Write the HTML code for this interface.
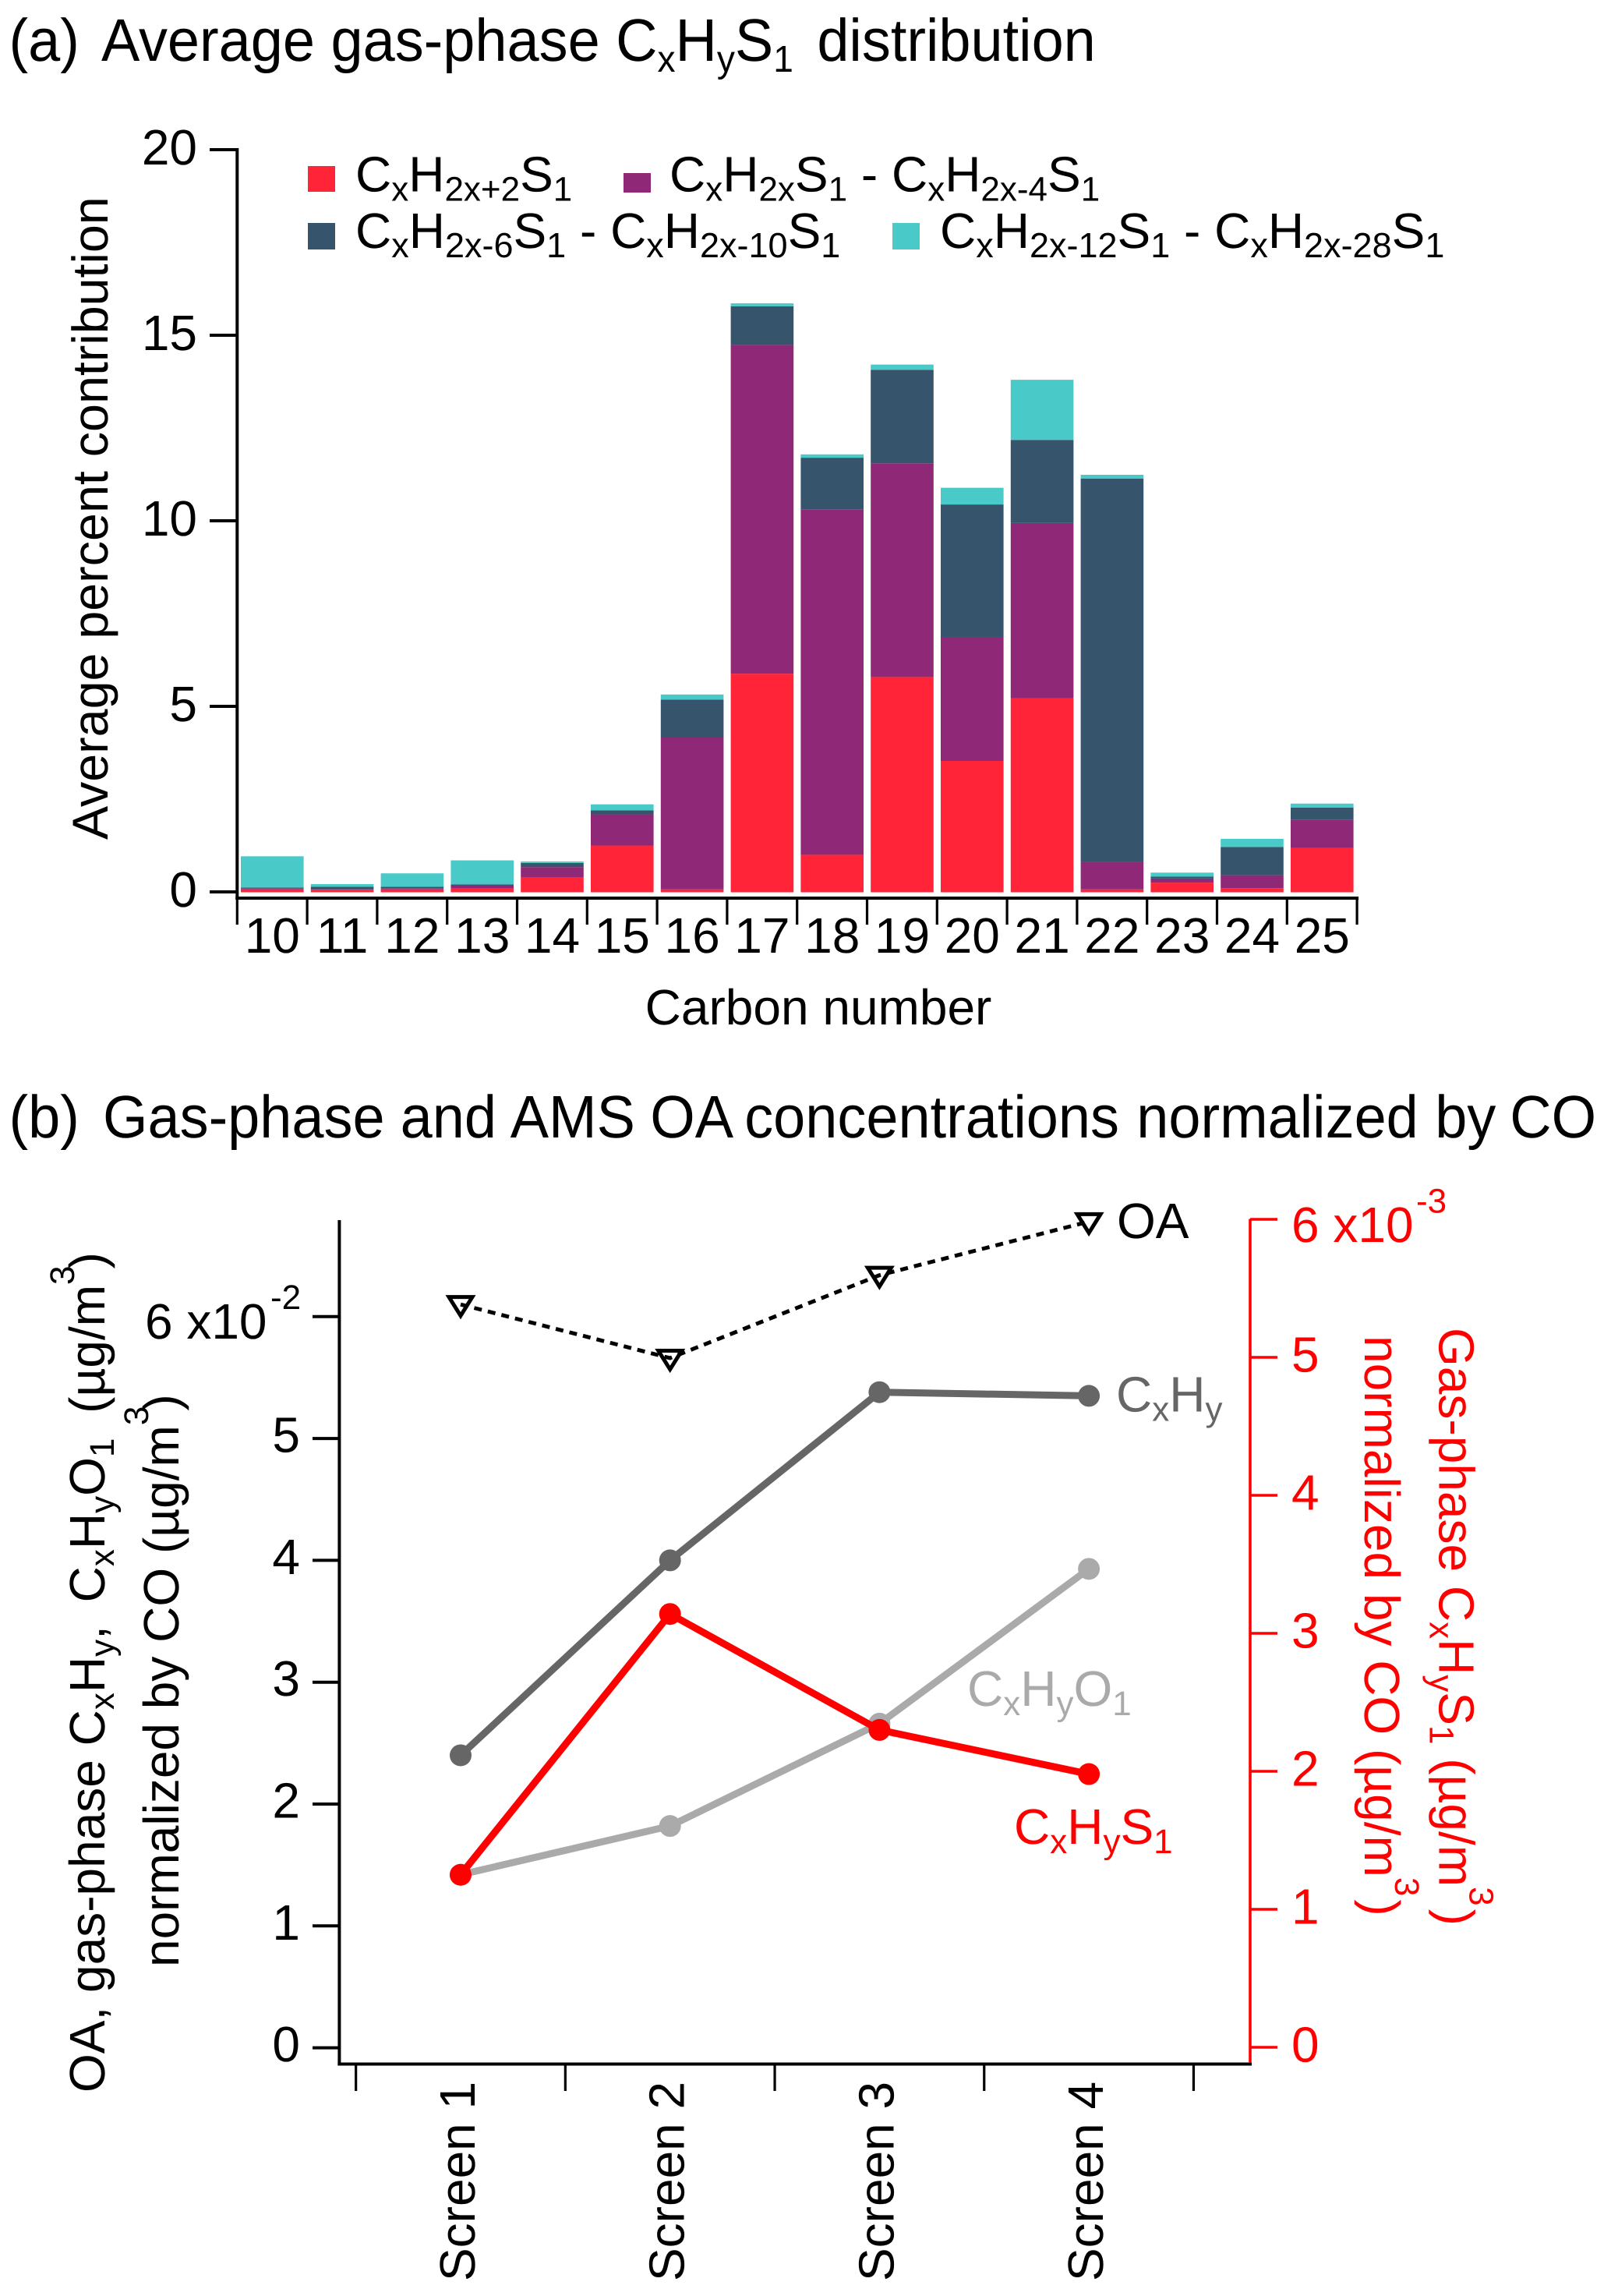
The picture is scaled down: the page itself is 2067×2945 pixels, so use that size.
<!DOCTYPE html>
<html lang="en">
<head>
<meta charset="utf-8">
<title>Gas-phase CxHyS1 distribution and concentrations normalized by CO</title>
<style>
html,body{margin:0;padding:0;background:#fff;}
svg{display:block;}
text{font-family:"Liberation Sans",Arial,sans-serif;font-size:64px;fill:#000;text-rendering:geometricPrecision;}
.s{font-size:44px;}
.s2{font-size:45px;}
.t{font-size:77px;}
.ts{font-size:48px;}
.red{fill:#ff0000;}
</style>
</head>
<body>
<svg id="figure" xmlns="http://www.w3.org/2000/svg" width="2067" height="2945" viewBox="0 0 2067 2945">
<rect x="0" y="0" width="2067" height="2945" fill="#fff"/>

<text transform="scale(0.96,1)" y="78" class="t"><tspan x="12">(a)</tspan><tspan x="135.4">Average gas-phase</tspan><tspan x="823">C</tspan><tspan class="ts" dy="14">x</tspan><tspan dy="-14">H</tspan><tspan class="ts" dy="14">y</tspan><tspan dy="-14">S</tspan><tspan class="ts" dy="14">1</tspan><tspan x="1092" dy="-14">distribution</tspan></text>

<g id="panel-a"></g>

<text transform="translate(138,1077) rotate(-90)" style="font-size:64.6px">Average percent contribution</text>
<text x="1050" y="1314" text-anchor="middle">Carbon number</text>

<g>
  <rect x="395" y="213" width="35" height="33" fill="#ff2437"/>
  <text x="456" y="245.5">C<tspan class="s" dy="12">x</tspan><tspan dy="-12">H</tspan><tspan class="s" dy="12">2x+2</tspan><tspan dy="-12">S</tspan><tspan class="s" dy="12">1</tspan></text>
  <rect x="800" y="222" width="35" height="25" fill="#8f2876"/>
  <text x="859" y="245.5">C<tspan class="s" dy="12">x</tspan><tspan dy="-12">H</tspan><tspan class="s" dy="12">2x</tspan><tspan dy="-12">S</tspan><tspan class="s" dy="12">1</tspan><tspan dy="-12"> - C</tspan><tspan class="s" dy="12">x</tspan><tspan dy="-12">H</tspan><tspan class="s" dy="12">2x-4</tspan><tspan dy="-12">S</tspan><tspan class="s" dy="12">1</tspan></text>
  <rect x="395" y="286" width="35" height="34" fill="#36556d"/>
  <text x="456" y="318">C<tspan class="s2" dy="12">x</tspan><tspan dy="-12">H</tspan><tspan class="s2" dy="12">2x-6</tspan><tspan dy="-12">S</tspan><tspan class="s2" dy="12">1</tspan><tspan dy="-12"> - C</tspan><tspan class="s2" dy="12">x</tspan><tspan dy="-12">H</tspan><tspan class="s2" dy="12">2x-10</tspan><tspan dy="-12">S</tspan><tspan class="s2" dy="12">1</tspan></text>
  <rect x="1145" y="286" width="35" height="34" fill="#49c9c7"/>
  <text x="1206" y="318">C<tspan class="s2" dy="12">x</tspan><tspan dy="-12">H</tspan><tspan class="s2" dy="12">2x-12</tspan><tspan dy="-12">S</tspan><tspan class="s2" dy="12">1</tspan><tspan dy="-12"> - C</tspan><tspan class="s2" dy="12">x</tspan><tspan dy="-12">H</tspan><tspan class="s2" dy="12">2x-28</tspan><tspan dy="-12">S</tspan><tspan class="s2" dy="12">1</tspan></text>
</g>

<text transform="scale(0.96,1)" y="1459" class="t"><tspan x="12">(b)</tspan><tspan x="137.5">Gas-phase</tspan><tspan x="535">and</tspan><tspan x="682">AMS</tspan><tspan x="869">OA</tspan><tspan x="995">concentrations</tspan><tspan x="1519">normalized</tspan><tspan x="1918">by</tspan><tspan x="2018">CO</tspan></text>

<g id="panel-b"></g>

<text x="342.5" y="1717" text-anchor="end">6 x10</text>
<text x="347" y="1679" class="s">-2</text>
<text x="1657" y="1593" class="red">6 x10</text>
<text x="1817" y="1555.6" class="s red">-3</text>

<text transform="translate(134,2684) rotate(-90)">OA, gas-phase C<tspan class="s" dy="12">x</tspan><tspan dy="-12">H</tspan><tspan class="s" dy="12">y</tspan><tspan dy="-12">, </tspan><tspan dx="12">C</tspan><tspan class="s" dy="12">x</tspan><tspan dy="-12">H</tspan><tspan class="s" dy="12">y</tspan><tspan dy="-12">O</tspan><tspan class="s" dy="12">1</tspan><tspan dy="-12" dx="14"> (µg/m</tspan><tspan class="s" dy="-39">3</tspan><tspan dy="39" dx="-4">)</tspan></text>
<text transform="translate(229,2523) rotate(-90)">normalized by CO (µg/m<tspan class="s" dy="-39">3</tspan><tspan dy="39" dx="-6">)</tspan></text>

<text transform="translate(1846.6,1703) rotate(90)" class="red">Gas-phase C<tspan class="s red" dy="12">x</tspan><tspan dy="-12">H</tspan><tspan class="s red" dy="12">y</tspan><tspan dy="-12">S</tspan><tspan class="s red" dy="12">1</tspan><tspan dy="-12"> (µg/m</tspan><tspan class="s red" dy="-39">3</tspan><tspan dy="39" dx="4">)</tspan></text>
<text transform="translate(1751,1713) rotate(90)" class="red">normalized by CO (µg/m<tspan class="s red" dy="-39">3</tspan><tspan dy="39" dx="4">)</tspan></text>

<text x="1433" y="1588">OA</text>
<text x="1432" y="1810.7" style="fill:#666666">C<tspan class="s" dy="12">x</tspan><tspan dy="-12">H</tspan><tspan class="s" dy="12">y</tspan></text>
<text x="1241" y="2188" style="fill:#aaaaaa">C<tspan class="s" dy="12">x</tspan><tspan dy="-12">H</tspan><tspan class="s" dy="12">y</tspan><tspan dy="-12">O</tspan><tspan class="s" dy="12">1</tspan></text>
<text x="1301" y="2365" class="red">C<tspan class="s red" dy="12">x</tspan><tspan dy="-12">H</tspan><tspan class="s red" dy="12">y</tspan><tspan dy="-12">S</tspan><tspan class="s red" dy="12">1</tspan></text>
</svg>

<script>
// Panel (a) data: stacked contribution of each class per carbon number
const carbonNumbers = [10, 11, 12, 13, 14, 15, 16, 17, 18, 19, 20, 21, 22, 23, 24, 25];
const alkaneValues = [0.08, 0.07, 0.08, 0.10, 0.41, 1.26, 0.08, 5.89, 1.01, 5.80, 3.54, 5.23, 0.08, 0.26, 0.11, 1.19];
const purpleValues = [0.02, 0.01, 0.02, 0.10, 0.27, 0.84, 4.09, 8.86, 9.31, 5.76, 3.33, 4.72, 0.73, 0.11, 0.35, 0.77];
const navyValues = [0.03, 0.07, 0.05, 0.01, 0.11, 0.11, 1.02, 1.04, 1.39, 2.52, 3.58, 2.24, 10.34, 0.05, 0.76, 0.32];
const cyanValues = [0.84, 0.07, 0.36, 0.65, 0.04, 0.16, 0.14, 0.08, 0.09, 0.14, 0.45, 1.62, 0.10, 0.11, 0.22, 0.11];
const panelATicks = [0, 5, 10, 15, 20];

// Panel (b) data
const screenLabels = ['Screen 1', 'Screen 2', 'Screen 3', 'Screen 4'];
const oaValues = [6.10, 5.66, 6.34, 6.78];
const cxhyValues = [2.40, 4.00, 5.38, 5.35];
const cxhyo1Values = [1.42, 1.82, 2.66, 3.93];
const cxhys1Values = [1.25, 3.14, 2.30, 1.98];
const leftTicks = [0, 1, 2, 3, 4, 5, 6];
const leftTickLabels = ['0', '1', '2', '3', '4', '5', ''];
const rightTicks = [0, 1, 2, 3, 4, 5, 6];
const rightTickLabels = ['0', '1', '2', '3', '4', '5', ''];

const NS = 'http://www.w3.org/2000/svg';
function make(parent, tag, attrs, text) {
  const el = document.createElementNS(NS, tag);
  for (const k in attrs) el.setAttribute(k, attrs[k]);
  if (text !== undefined) el.textContent = text;
  parent.appendChild(el);
  return el;
}

// Axis functions
function yA(v) { return 1144.5 - 47.6 * v; }
function bandA(i) { return 304.3 + 89.8 * i; }
function yL(v) { return 2626.6 - 156.3 * v; }
function yR(v) { return 2626 - 177 * v; }
function xB(i) { return 591 + 268.7 * i; }
function tickB(i) { return xB(i) - 134.35; }

// ---- Panel (a) ----
const gA = document.getElementById('panel-a');
const stacks = [
  { name: 'alkane', values: alkaneValues, color: '#ff2437' },
  { name: 'purple', values: purpleValues, color: '#8f2876' },
  { name: 'navy', values: navyValues, color: '#36556d' },
  { name: 'cyan', values: cyanValues, color: '#49c9c7' }
];
carbonNumbers.forEach(function (c, i) {
  let cum = 0;
  stacks.forEach(function (s) {
    const v = s.values[i];
    const rect = make(gA, 'rect', { x: bandA(i) + 4.7, y: yA(cum + v), width: 80.6, height: yA(cum) - yA(cum + v), fill: s.color });
    
    
    cum += v;
  });
});
const axisAY = make(gA, 'line', { x1: 304.3, y1: 190, x2: 304.3, y2: 1154, stroke: '#000', 'stroke-width': 4 });


const axisAX = make(gA, 'line', { x1: 302.3, y1: 1152, x2: bandA(16) + 2, y2: 1152, stroke: '#000', 'stroke-width': 4 });


panelATicks.forEach(function (t) {
  const tick = make(gA, 'line', { x1: 269, y1: yA(t) - 0.5, x2: 304, y2: yA(t) - 0.5, stroke: '#000', 'stroke-width': 4 });
  
  
  const lab = make(gA, 'text', { x: 253, y: yA(t) + 18.5, 'text-anchor': 'end' }, String(t));
  
  
});
for (let i = 0; i <= carbonNumbers.length; i++) {
  const tick = make(gA, 'line', { x1: bandA(i), y1: 1152, x2: bandA(i), y2: 1186, stroke: '#000', 'stroke-width': 3.2 });
  
  
}
carbonNumbers.forEach(function (c, i) {
  const lab = make(gA, 'text', { x: bandA(i) + 45, y: 1222, 'text-anchor': 'middle' }, String(c));
  
  
});

// ---- Panel (b) ----
const gB = document.getElementById('panel-b');
const axisBL = make(gB, 'line', { x1: 435.4, y1: 1565, x2: 435.4, y2: 2649.5, stroke: '#000', 'stroke-width': 4 });


const axisBB = make(gB, 'line', { x1: 433.4, y1: 2647.5, x2: 1606, y2: 2647.5, stroke: '#000', 'stroke-width': 4 });


const axisBR = make(gB, 'line', { x1: 1604, y1: 1563.5, x2: 1604, y2: 2646, stroke: '#ff0000', 'stroke-width': 3.6 });



leftTicks.forEach(function (t, i) {
  const tick = make(gB, 'line', { x1: 401, y1: yL(t), x2: 435, y2: yL(t), stroke: '#000', 'stroke-width': 4 });
  
  
  if (leftTickLabels[i]) {
    const lab = make(gB, 'text', { x: 385, y: yL(t) + 17.5, 'text-anchor': 'end' }, leftTickLabels[i]);
    
    
  }
});
rightTicks.forEach(function (t, i) {
  const tick = make(gB, 'line', { x1: 1604, y1: yR(t), x2: 1639, y2: yR(t), stroke: '#ff0000', 'stroke-width': 3.6 });
  
  
  if (rightTickLabels[i]) {
    const lab = make(gB, 'text', { x: 1657, y: yR(t) + 18.5, class: 'red' }, rightTickLabels[i]);
    
    
  }
});
for (let i = 0; i <= screenLabels.length; i++) {
  const tick = make(gB, 'line', { x1: tickB(i), y1: 2647.5, x2: tickB(i), y2: 2682, stroke: '#000', 'stroke-width': 3.2 });
  
  
}
screenLabels.forEach(function (s, i) {
  const lab = make(gB, 'text', { transform: 'translate(' + (xB(i) + 18) + ',2926) rotate(-90)' }, s);
  
  
});

function pointsOf(values, yFn) {
  return values.map(function (v, i) { return xB(i) + ',' + yFn(v); }).join(' ');
}

function drawSeries(name, values, yFn, color) {
  const line = make(gB, 'polyline', { points: pointsOf(values, yFn), fill: 'none', stroke: color, 'stroke-width': 9, 'stroke-linejoin': 'round' });
  
  
  values.forEach(function (v, i) {
    const dot = make(gB, 'circle', { cx: xB(i), cy: yFn(v), r: 14, fill: color });
    
    
  });
}

drawSeries('cxhyo1', cxhyo1Values, yL, '#aaaaaa');
drawSeries('cxhy', cxhyValues, yL, '#666666');

const oaLine = make(gB, 'polyline', { points: pointsOf(oaValues, yL), fill: 'none', stroke: '#000', 'stroke-width': 5, 'stroke-dasharray': '10 8' });


oaValues.forEach(function (v, i) {
  const cx = xB(i);
  const cy = yL(v);
  const tri = make(gB, 'path', { d: 'M' + (cx - 15) + ' ' + (cy - 9.5) + 'H' + (cx + 15) + 'L' + cx + ' ' + (cy + 14.5) + 'Z', fill: 'none', stroke: '#000', 'stroke-width': 5, 'stroke-linejoin': 'miter' });
  
  
});

drawSeries('cxhys1', cxhys1Values, yR, '#ff0000');
</script>
</body>
</html>
